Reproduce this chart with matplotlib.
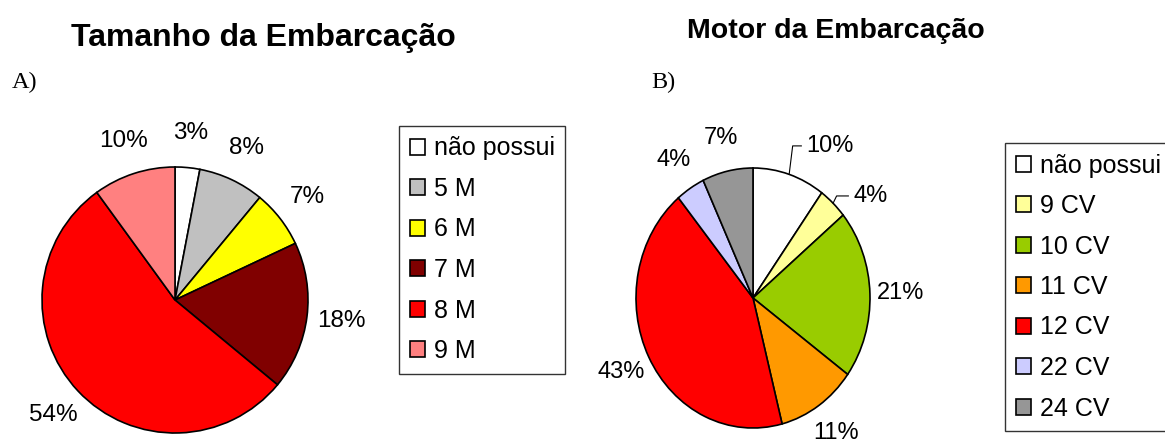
import matplotlib.pyplot as plt
import numpy as np

plt.rcParams['font.family'] = ['Liberation Sans', 'DejaVu Sans']

# Dados - grafico A (tamanho)
tamanho_rotulos = ['não possui', '5 M', '6 M', '7 M', '8 M', '9 M']
tamanho_valores = [3, 8, 7, 18, 54, 10]
tamanho_cores = ['#FFFFFF', '#C0C0C0', '#FFFF00', '#800000', '#FF0000', '#FF8080']

# Dados - grafico B (motor)
motor_rotulos = ['não possui', '9 CV', '10 CV', '11 CV', '12 CV', '22 CV', '24 CV']
motor_valores = [10, 4, 21, 11, 43, 4, 7]
motor_cores = ['#FFFFFF', '#FFFF99', '#99CC00', '#FF9900', '#FF0000', '#CCCCFF', '#969696']

W, H = 1165, 441
fig = plt.figure(figsize=(W / 100, H / 100), dpi=100)

def eixo_px(cx, cy, rx, ry):
    # cria eixo a partir do centro e raios em pixels
    return fig.add_axes([(cx - rx) / W, (H - cy - ry) / H, 2 * rx / W, 2 * ry / H])

def desenha_pizza(ax, valores, cores, tam_fonte):
    wedges, textos, pcts = ax.pie(valores, colors=cores, startangle=90, counterclock=False,
                                  autopct='%.0f%%', pctdistance=1.26, radius=1,
                                  wedgeprops=dict(edgecolor='black', linewidth=1.2))
    for w in wedges:
        w.set_clip_on(False)
    for t in pcts:
        t.set_fontsize(tam_fonte)
    ax.set_xlim(-1, 1)
    ax.set_ylim(-1, 1)
    ax.set_aspect('auto')
    ax.axis('off')
    return wedges, pcts

# Grafico A
axA = eixo_px(175, 300, 133, 133)
wA, pA = desenha_pizza(axA, tamanho_valores, tamanho_cores, 17.5)

# Grafico B
axB = eixo_px(753, 298, 117, 130)
wB, pB = desenha_pizza(axB, motor_valores, motor_cores, 17)

# rotulos com linha de chamada (10% e 4%)
chamadas = {0: (1.17, 0.453), 1: (0.785, 0.855)}
for i, (ytxt, xtxt) in chamadas.items():
    w = wB[i]
    ang = np.deg2rad((w.theta1 + w.theta2) / 2)
    x0, y0 = np.cos(ang), np.sin(ang)
    pB[i].set_position((xtxt, ytxt))
    pB[i].set_ha('left')
    axB.plot([x0, x0 + 0.03, xtxt - 0.04], [y0, ytxt, ytxt], color='black', lw=0.8, clip_on=False)

# Titulos
fig.text(263 / W, 1 - 46 / H, 'Tamanho da Embarcação', fontsize=23, fontweight='bold',
         ha='center', va='baseline')
fig.text(836 / W, 1 - 38 / H, 'Motor da Embarcação', fontsize=20.5, fontweight='bold',
         ha='center', va='baseline')
fig.text(12 / W, 1 - 88 / H, 'A)', fontsize=17.5, family='Liberation Serif', va='baseline')
fig.text(651 / W, 1 - 88 / H, 'B)', fontsize=17.5, family='Liberation Serif', va='baseline')

# Legendas
estilo = dict(fontsize=18, frameon=True, fancybox=False, shadow=False, handlelength=0.6,
              handleheight=0.6, handletextpad=0.36, borderpad=0.42, labelspacing=0.66,
              borderaxespad=0)
legA = fig.legend(wA, tamanho_rotulos, loc='upper left', bbox_to_anchor=(399 / W, 1 - 126 / H), **estilo)
legB = fig.legend(wB, motor_rotulos, loc='upper left', bbox_to_anchor=(1005 / W, 1 - 143 / H), **estilo)
for leg in (legA, legB):
    leg.get_frame().set_edgecolor('black')
    leg.get_frame().set_linewidth(1.0)

fig.savefig('out.png', dpi=100)
